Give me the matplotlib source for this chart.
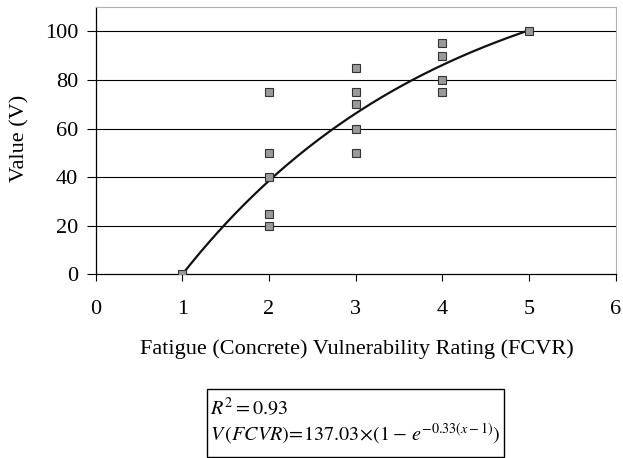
import numpy as np
import matplotlib
matplotlib.use("Agg")
import matplotlib.pyplot as plt
from matplotlib.patches import Rectangle

plt.rcParams["font.family"] = ["Liberation Serif", "DejaVu Serif"]
plt.rcParams["mathtext.fontset"] = "stix"

# Observed ratings and values
fcvr = [1, 2, 2, 2, 2, 2, 3, 3, 3, 3, 3, 4, 4, 4, 4, 5]
value = [0, 75, 50, 40, 25, 20, 85, 75, 70, 60, 50, 95, 90, 80, 75, 100]

# Fitted model: V = a * (1 - exp(-b (x - 1)))
fit_a = 137.03
fit_b = 0.33
r_squared = 0.93

x_ticks = [0, 1, 2, 3, 4, 5, 6]
y_ticks = [0, 20, 40, 60, 80, 100]

W, H = 623, 458
fig = plt.figure(figsize=(W / 100, H / 100), dpi=100)
ax = fig.add_axes([95.7 / W, 1 - 274.3 / H, 520 / W, 267.3 / H])

# gridlines
for yv in y_ticks[1:]:
    ax.axhline(yv, color="black", lw=0.8, zorder=1)

xf = np.linspace(1, 5, 200)
ax.plot(xf, fit_a * (1 - np.exp(-fit_b * (xf - 1))), color="#111111", lw=1.6, zorder=2)

ax.plot(fcvr, value, ls="none", marker="s", ms=5.6, mfc="#9a9a9a", mec="#333333",
        mew=0.8, zorder=3)

ax.set_xlim(0, 6)
ax.set_ylim(0, 110)
ax.set_xticks(x_ticks)
ax.set_yticks(y_ticks)
ax.tick_params(axis="both", labelsize=16, width=0.8, color="black", direction="out")
ax.tick_params(axis="x", length=5.3, pad=13)
ax.tick_params(axis="y", length=6.5, pad=6)

for side in ("top", "right"):
    ax.spines[side].set_color("#b0b0b0")
    ax.spines[side].set_linewidth(0.8)
for side in ("left", "bottom"):
    ax.spines[side].set_color("black")
    ax.spines[side].set_linewidth(0.9)

fig.text(357 / W, 1 - 349 / H, "Fatigue (Concrete) Vulnerability Rating (FCVR)",
         ha="center", va="center", fontsize=16)
fig.text(19.5 / W, 1 - 138 / H, "Value (V)", rotation=90,
         ha="center", va="center", fontsize=16)

# equation box
bx0, bx1 = 207 / W, 504 / W
by0, by1 = 1 - 457 / H, 1 - 389 / H
fig.patches.append(Rectangle((bx0, by0), bx1 - bx0, by1 - by0, transform=fig.transFigure,
                             fill=False, edgecolor="black", lw=1.0))
fig.text(210 / W, 1 - 415 / H, r"$R^2 = %.2f$" % r_squared,
         ha="left", va="baseline", fontsize=14.5)
fig.text(210 / W, 1 - 440 / H,
         r"$V\,(FCVR)\!=\!%.2f\!\times\!(\left.1-\,e^{-%.2f(x-1)}\right)$" % (fit_a, fit_b),
         ha="left", va="baseline", fontsize=14.5)

fig.savefig("out.png", dpi=100)
